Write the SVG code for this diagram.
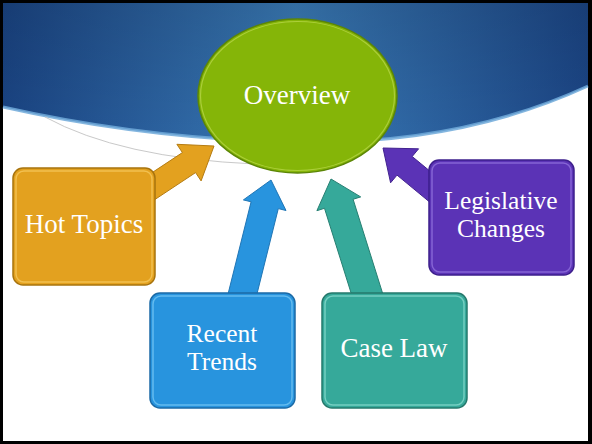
<svg xmlns="http://www.w3.org/2000/svg" width="592" height="444" viewBox="0 0 592 444">
<defs>
<linearGradient id="hdr" x1="0" y1="0" x2="1" y2="0">
<stop offset="0" stop-color="#1a4483"/>
<stop offset="0.5" stop-color="#3a7bb7"/>
<stop offset="1" stop-color="#1b4585"/>
</linearGradient>
<linearGradient id="hdrv" x1="0" y1="0" x2="0" y2="1">
<stop offset="0" stop-color="#000" stop-opacity="0.12"/>
<stop offset="1" stop-color="#000" stop-opacity="0"/>
</linearGradient>
</defs>
<style>
.lbl{font-family:"Liberation Serif","DejaVu Serif",serif;font-size:27px;fill:#ffffff;text-anchor:middle}
.lbl2{font-size:25.5px}
.box{stroke-width:1.5}
.hl{fill:none;stroke-width:1.5;opacity:0.8}
.arr{stroke-width:1}
</style>
<rect x="0" y="0" width="592" height="444" fill="#000"/>
<rect x="3" y="3" width="585" height="438" fill="#fff"/>
<g id="background">
<path d="M3,3 H588 V86 Q460,145 300,142 Q150,140 3,107 Z" fill="url(#hdr)"/>
<path d="M3,3 H588 V86 Q460,145 300,142 Q150,140 3,107 Z" fill="url(#hdrv)"/>
<path d="M588,86 Q460,145 300,142 Q150,140 3,107" fill="none" stroke="#6ea9d9" stroke-width="3" opacity="0.85"/>
<path d="M45,117 Q120,158 255,164" fill="none" stroke="#c9c9c9" stroke-width="1"/>
</g>
<g id="connectors">
<polygon class="arr" fill="#e3a11f" stroke="#b57c12" points="146.6,205 195.6,172.6 201.1,180.9 214,146 176.9,144.3 182.4,152.6 133.4,185"/>
<polygon class="arr" fill="#2894de" stroke="#1f75b5" points="254.6,303.4 278.3,208.6 286,210.5 271,180 243.4,199.9 251.1,201.8 227.4,296.6"/>
<polygon class="arr" fill="#36a99a" stroke="#277f72" points="383.3,295.5 353.1,199.3 360.7,196.9 331,179 316.9,210.7 324.5,208.3 354.7,304.5"/>
<polygon class="arr" fill="#5b33b6" stroke="#42228f" points="447.6,185.7 412.2,156.5 418.6,148.8 383,148 390.6,182.8 397,175.1 432.4,204.3"/>
</g>
<g id="overview">
<ellipse cx="297.5" cy="96" rx="99.5" ry="77" fill="#85b508" stroke="#5c8606" stroke-width="1.5"/>
<ellipse cx="297.5" cy="96" rx="97" ry="74.5" fill="none" stroke="#c4e05a" stroke-width="1.2" opacity="0.6"/>
<text class="lbl" x="297" y="104">Overview</text>
</g>
<g id="hot-topics">
<rect class="box" x="13" y="168" width="142" height="117" rx="10" fill="#e3a11f" stroke="#a8740e"/>
<rect class="hl" x="16" y="171" width="136" height="111" rx="8" stroke="#f5c85c"/>
<text class="lbl" x="84" y="233">Hot Topics</text>
</g>
<g id="recent-trends">
<rect class="box" x="150" y="293" width="145" height="115" rx="10" fill="#2894de" stroke="#1b6aa6"/>
<rect class="hl" x="153" y="296" width="139" height="109" rx="8" stroke="#72c4f2"/>
<text class="lbl lbl2" x="222" y="342">Recent</text>
<text class="lbl lbl2" x="222" y="370">Trends</text>
</g>
<g id="case-law">
<rect class="box" x="322" y="293" width="145" height="115" rx="10" fill="#36a99a" stroke="#25796c"/>
<rect class="hl" x="325" y="296" width="139" height="109" rx="8" stroke="#84d8ca"/>
<text class="lbl" x="394" y="357">Case Law</text>
</g>
<g id="legislative-changes">
<rect class="box" x="429" y="160" width="145" height="115" rx="10" fill="#5b33b6" stroke="#3d1f8c"/>
<rect class="hl" x="432" y="163" width="139" height="109" rx="8" stroke="#9070dc"/>
<text class="lbl lbl2" x="501" y="209">Legislative</text>
<text class="lbl lbl2" x="501" y="237">Changes</text>
</g>
</svg>
